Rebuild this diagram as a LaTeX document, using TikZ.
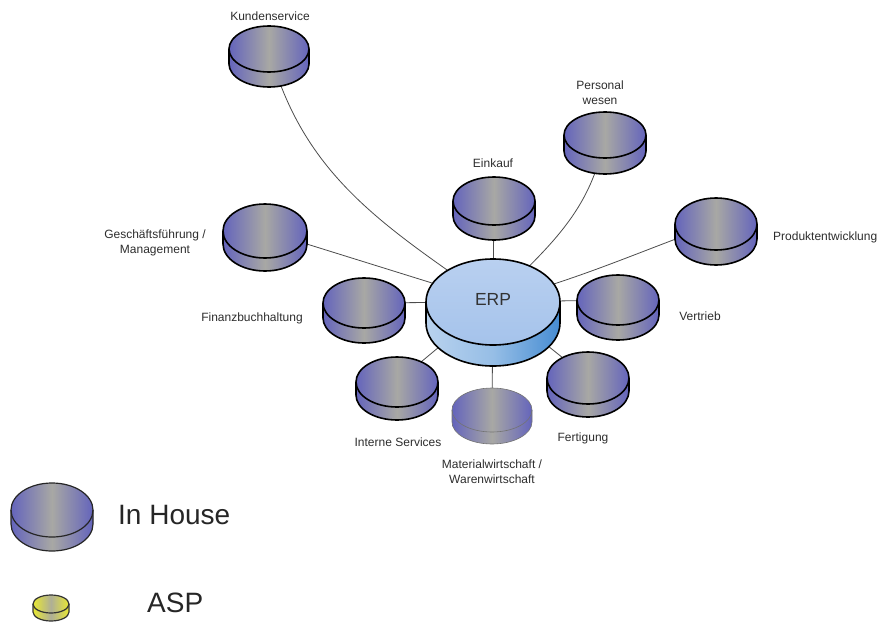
\documentclass[tikz,border=0pt]{standalone}
\usepackage{fontspec}
\setmainfont{Liberation Sans}
\definecolor{dblue}{RGB}{100,100,188}
\definecolor{dgray}{RGB}{168,168,164}
\definecolor{erptop}{RGB}{185,208,240}
\definecolor{erptopb}{RGB}{165,195,235}
\definecolor{erpl}{RGB}{185,210,238}
\definecolor{erpm}{RGB}{150,190,230}
\definecolor{erpd}{RGB}{70,140,210}
\definecolor{ylw}{RGB}{232,232,50}
\definecolor{ygray}{RGB}{175,175,150}
\definecolor{txt}{RGB}{45,45,45}
\newcommand\drawdisk[7]{%
\begin{scope}[shift={(#1)}]
 \path[#5] (-#2,0) -- (-#2,-#4) arc[start angle=180,end angle=360,x radius=#2,y radius=#3] -- (#2,0) -- cycle;
 \path[#6] (0,0) ellipse[x radius=#2,y radius=#3];
 \draw[#7] (-#2,0) -- (-#2,-#4) arc[start angle=180,end angle=360,x radius=#2,y radius=#3] -- (#2,0);
 \draw[#7] (0,0) ellipse[x radius=#2,y radius=#3];
\end{scope}}
\tikzset{
 satfill/.style={left color=dblue, right color=dblue, middle color=dgray},
 satline/.style={line width=1.6pt, black},
 thinline/.style={line width=0.6pt, black!55},
 erpside/.style={left color=erpl, right color=erpd, middle color=erpm},
 erptopfill/.style={top color=erptop, bottom color=erptopb},
 aspfill/.style={left color=ylw, right color=ylw, middle color=ygray},
 aspline/.style={line width=1.2pt, black!80},
 conn/.style={line width=0.8pt, black!70},
 lbl/.style={font=\fontsize{12}{15}\selectfont, text=txt, align=center, inner sep=0pt},
 biglbl/.style={font=\fontsize{28}{32}\selectfont, text=black!85, inner sep=0pt, anchor=west},
}
\begin{document}
\begin{tikzpicture}[x=1pt,y=1pt]
\path[use as bounding box] (0,0) rectangle (885,-626);
% centres of top ellipses
\coordinate (ks) at (269,-49);
\coordinate (pw) at (605,-135);
\coordinate (ek) at (494,-201);
\coordinate (pe) at (716,-224);
\coordinate (gf) at (265,-231);
\coordinate (fb) at (364,-303);
\coordinate (erp) at (493,-302);
\coordinate (vt) at (618,-300);
\coordinate (is) at (397,-382);
\coordinate (mw) at (492,-410);
\coordinate (fg) at (588,-378);
\coordinate (ih) at (52,-510);
\coordinate (asp) at (51,-604);
% connectors
\draw[conn] (ks) to[out=-75,in=145] (erp);
\draw[conn] (pw) to[out=-100,in=45] (erp);
\draw[conn] (ek) -- (erp);
\draw[conn] (pe) to[out=200,in=15] (erp);
\draw[conn] (gf) -- (erp);
\draw[conn] (fb) -- (erp);
\draw[conn] (vt) -- (erp);
\draw[conn] (is) -- (erp);
\draw[conn] (mw) -- (erp);
\draw[conn] (fg) -- (erp);
% disks
\drawdisk{erp}{67}{43}{21}{erpside}{erptopfill}{line width=1.6pt,black}
\drawdisk{ks}{40}{23}{15}{satfill}{satfill}{satline}
\drawdisk{pw}{41}{23}{16}{satfill}{satfill}{satline}
\drawdisk{ek}{41}{24}{15}{satfill}{satfill}{satline}
\drawdisk{pe}{41}{26}{15}{satfill}{satfill}{satline}
\drawdisk{gf}{42}{27}{13}{satfill}{satfill}{satline}
\drawdisk{fb}{41}{25}{15}{satfill}{satfill}{satline}
\drawdisk{vt}{41}{25}{15}{satfill}{satfill}{satline}
\drawdisk{is}{41}{25}{13}{satfill}{satfill}{satline}
\drawdisk{mw}{40}{22}{12}{satfill}{satfill}{thinline}
\drawdisk{fg}{41}{26}{13}{satfill}{satfill}{satline}
\drawdisk{ih}{41}{27}{14}{satfill}{satfill}{line width=1.2pt,black!85}
\drawdisk{asp}{18}{9}{8}{aspfill}{aspfill}{aspline}
% labels
\node[lbl] (lks) at (270,-16) {Kundenservice};
\node[lbl] (lpw) at (600,-93) {Personal\\wesen};
\node[lbl] (lek) at (493,-163) {Einkauf};
\node[lbl, anchor=west] (lpe) at (773,-237) {Produktentwicklung};
\node[lbl] (lgf) at (155,-243) {Geschäftsführung /\\Management};
\node[lbl] (lfb) at (252,-318) {Finanzbuchhaltung};
\node[lbl, font=\fontsize{17.5}{20}\selectfont, text=black!80] (lerp) at (493,-299) {ERP};
\node[lbl] (lvt) at (700,-316) {Vertrieb};
\node[lbl] (lis) at (398,-442) {Interne Services};
\node[lbl] (lmw) at (492,-472) {Materialwirtschaft /\\Warenwirtschaft};
\node[lbl] (lfg) at (583,-438) {Fertigung};
\node[biglbl] (lih) at (118,-515) {In House};
\node[biglbl] (lasp) at (147,-603) {ASP};
\end{tikzpicture}
\end{document}
